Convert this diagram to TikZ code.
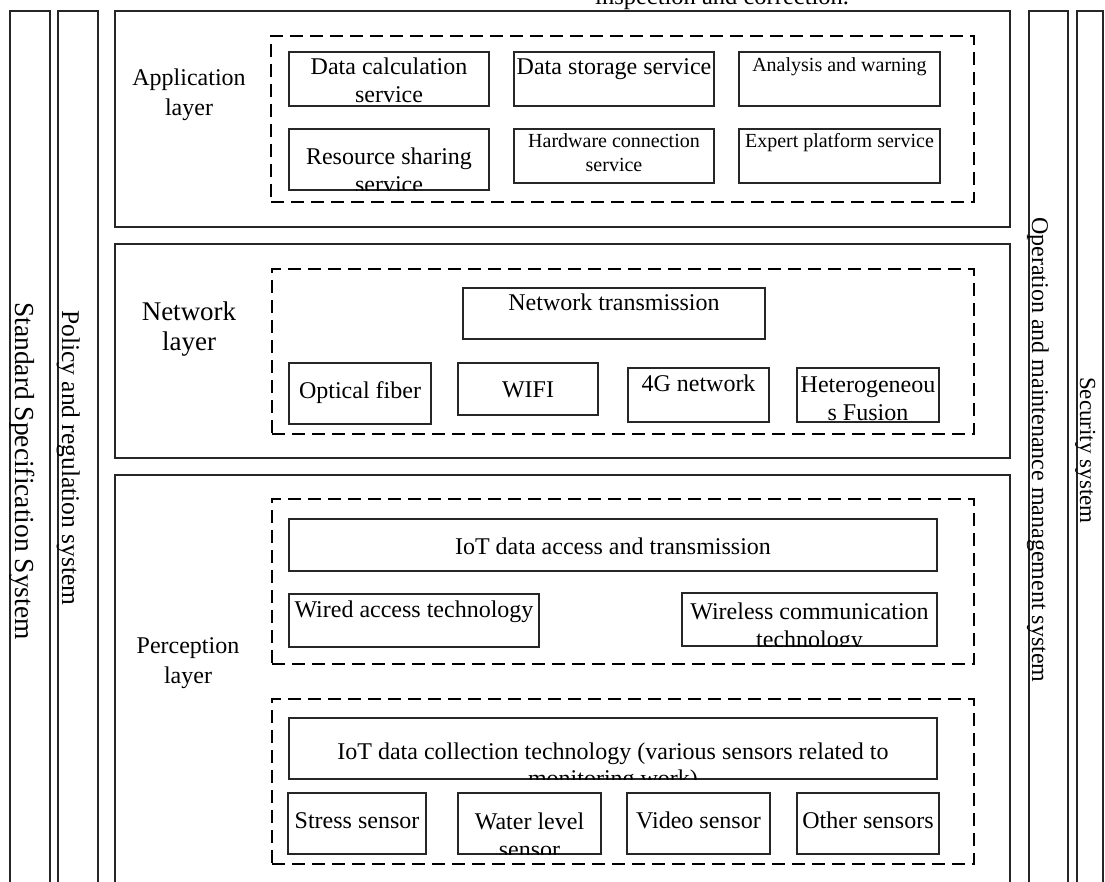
\documentclass[tikz,border=0pt]{standalone}
\usepackage{fontspec}
\setmainfont{Liberation Serif}
\usetikzlibrary{fit}
% #6 = baseline of the LAST text line
\newcommand\tb[8]{%
  \node[box, fit={(#2,#3) (#4,#5)}] (#1) {};
  \begin{scope}
    \clip (#1.south west) rectangle (#1.north east);
    \node[lbl, #7] (#1-t) at ({(#2+#4)/2},#6) {#8};
  \end{scope}
}
\begin{document}
\begin{tikzpicture}[x=1pt,y=-1pt,
  box/.style={draw=black!85, line width=1.1pt, inner sep=0pt},
  dbox/.style={draw=black, line width=2.6pt, dash pattern=on 13pt off 7pt, inner sep=0pt},
  f24/.style={font=\fontsize{24}{28}\selectfont},
  f24b/.style={font=\fontsize{24}{27}\selectfont},
  f20/.style={font=\fontsize{20}{24}\selectfont},
  lbl/.style={align=center, inner sep=0pt, anchor=base},
  vtxt/.style={rotate=-90, anchor=base west, inner sep=0pt}
]
\useasboundingbox (0,0) rectangle (1105,882);
% side bars
\node[box, fit={(10,11) (50,900)}] (std) {};
\node[box, fit={(58,11) (98,900)}] (pol) {};
\node[box, fit={(1029,11) (1068,900)}] (ops) {};
\node[box, fit={(1077,11) (1103,900)}] (sec) {};
\node[vtxt, font=\fontsize{27.5}{30}\selectfont] (std-t) at (15,302) {Standard Specification System};
\node[vtxt, font=\fontsize{25.5}{30}\selectfont] (pol-t) at (62,310) {Policy and regulation system};
\node[vtxt, font=\fontsize{24}{30}\selectfont] (ops-t) at (1032,217) {Operation and maintenance management system};
\node[vtxt, font=\fontsize{23}{30}\selectfont] (sec-t) at (1080,377) {Security system};
% top fragment
\node[anchor=base west, inner sep=0pt, font=\fontsize{24.5}{28}\selectfont] (frag) at (595,5) {inspection and correction.};
% layers
\node[box, fit={(115,11) (1010,227)}] (app) {};
\node[box, fit={(115,244) (1010,458)}] (net) {};
\node[box, fit={(115,475) (1010,900)}] (per) {};
\node[lbl, font=\fontsize{24}{30}\selectfont] (app-t) at (189,116) {Application\\layer};
\node[lbl, font=\fontsize{27}{30}\selectfont] (net-t) at (189,350) {Network\\layer};
\node[lbl, font=\fontsize{24}{30}\selectfont] (per-t) at (188,683) {Perception\\layer};
% dashed groups
\node[dbox, fit={(271,36) (974,202)}] (appg) {};
\node[dbox, fit={(272,269) (974,434)}] (netg) {};
\node[dbox, fit={(272,499) (974,664)}] (accg) {};
\node[dbox, fit={(272,699) (974,864)}] (colg) {};
% application services
\tb{calc}{289}{52}{489}{106}{103}{f24}{Data calculation\\service}
\tb{stor}{514}{52}{714}{106}{75}{f24}{Data storage service}
\tb{warn}{739}{52}{940}{106}{72}{f20}{Analysis and warning}
\tb{share}{289}{129}{489}{190}{193}{f24}{Resource sharing\\service}
\tb{hw}{514}{129}{714}{183}{172}{f20}{Hardware connection\\service}
\tb{exp}{739}{129}{940}{183}{148}{f20}{Expert platform service}
% network
\tb{ntx}{463}{288}{765}{339}{311}{f24}{Network transmission}
\tb{fib}{289}{363}{431}{424}{398}{f24}{Optical fiber}
\tb{wifi}{458}{363}{598}{415}{397}{f24}{WIFI}
\tb{g4}{628}{368}{769}{422}{391}{f24}{4G network}
\tb{het}{797}{368}{939}{422}{420}{f24}{Heterogeneou\\s Fusion}
% perception: access
\tb{acc}{289}{519}{937}{571}{554}{f24}{IoT data access and transmission}
\tb{wired}{289}{594}{539}{647}{617}{f24}{Wired access technology}
\tb{wless}{682}{593}{937}{646}{647}{f24}{Wireless communication\\technology}
% perception: collection
\tb{col}{289}{718}{937}{779}{786}{f24b}{IoT data collection technology (various sensors related to\\monitoring work)}
\tb{stress}{288}{793}{426}{854}{828}{f24}{Stress sensor}
\tb{water}{458}{793}{601}{854}{857}{f24}{Water level\\sensor}
\tb{video}{627}{793}{770}{854}{828}{f24}{Video sensor}
\tb{other}{797}{793}{939}{854}{828}{f24}{Other sensors}
\end{tikzpicture}
\end{document}
